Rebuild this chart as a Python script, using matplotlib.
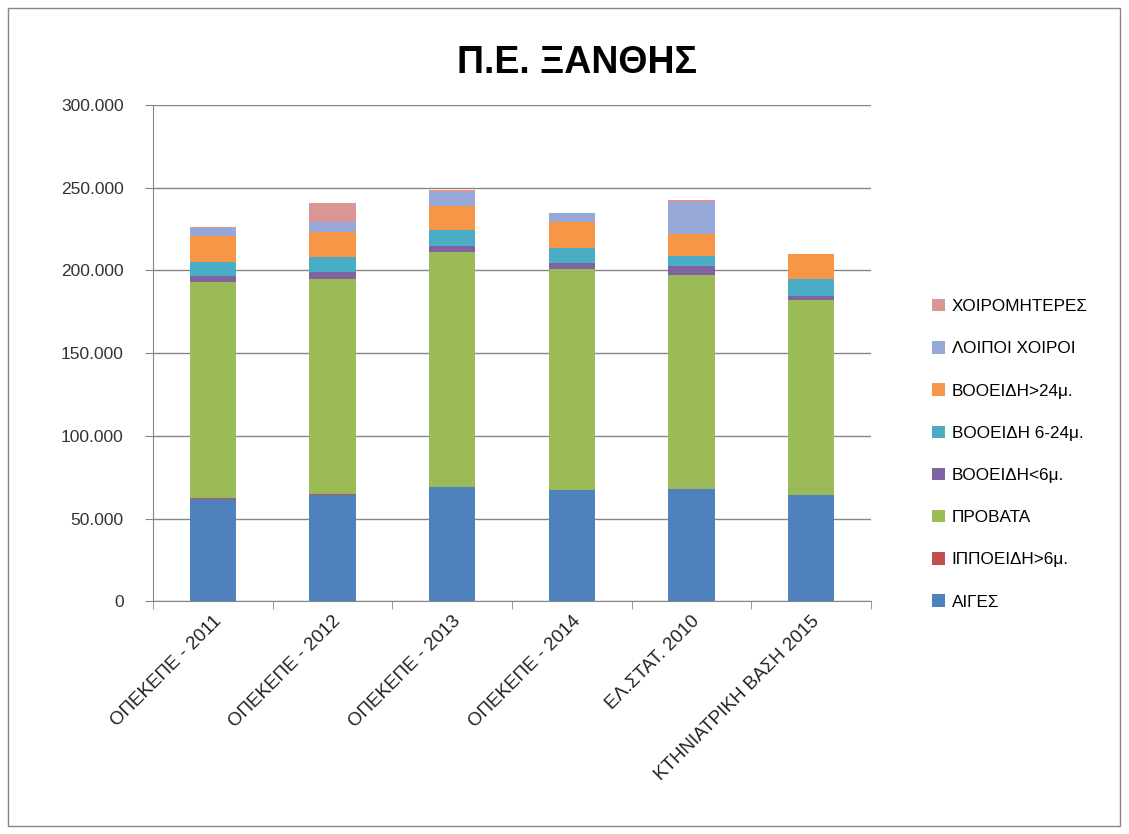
import numpy as np
import matplotlib
matplotlib.use('Agg')
import matplotlib.pyplot as plt
from matplotlib.patches import Rectangle
from matplotlib.ticker import FuncFormatter, FixedLocator

plt.rcParams['font.family'] = ['Liberation Sans', 'DejaVu Sans']

categories = ['ΟΠΕΚΕΠΕ - 2011', 'ΟΠΕΚΕΠΕ - 2012', 'ΟΠΕΚΕΠΕ - 2013',
              'ΟΠΕΚΕΠΕ - 2014', 'ΕΛ.ΣΤΑΤ. 2010', 'ΚΤΗΝΙΑΤΡΙΚΗ ΒΑΣΗ 2015']

# series, bottom to top
aiges = [62000, 64500, 69000, 67100, 67700, 64000]
ippoeidh = [500, 500, 300, 300, 300, 300]
provata = [130500, 129800, 141800, 133400, 129200, 117700]
vooeidh_lt6 = [3600, 4200, 3600, 3600, 5400, 2500]
vooeidh_6_24 = [8400, 9000, 9700, 9100, 6100, 10300]
vooeidh_gt24 = [15800, 15200, 14500, 16000, 13300, 15100]
loipoi_xoiroi = [4800, 6100, 8500, 5200, 19300, 0]
xoiromhteres = [600, 11500, 1200, 300, 1200, 0]

series_names = ['ΑΙΓΕΣ', 'ΙΠΠΟΕΙΔΗ>6μ.', 'ΠΡΟΒΑΤΑ', 'ΒΟΟΕΙΔΗ<6μ.',
                'ΒΟΟΕΙΔΗ 6-24μ.', 'ΒΟΟΕΙΔΗ>24μ.', 'ΛΟΙΠΟΙ ΧΟΙΡΟΙ', 'ΧΟΙΡΟΜΗΤΕΡΕΣ']
series_vals = [aiges, ippoeidh, provata, vooeidh_lt6, vooeidh_6_24,
               vooeidh_gt24, loipoi_xoiroi, xoiromhteres]
colors = ['#4F81BD', '#C0504D', '#9BBB59', '#8064A2', '#4BACC6',
          '#F79646', '#95A8D8', '#D99694']

fig = plt.figure(figsize=(11.29, 8.34), dpi=100)
ax = fig.add_axes([0.1355, 0.279, 0.636, 0.595])

x = np.arange(len(categories))
bottom = np.zeros(len(categories))
handles = []
for name, vals, c in zip(series_names, series_vals, colors):
    b = ax.bar(x, vals, 0.385, bottom=bottom, color=c, label=name, zorder=3)
    handles.append(b)
    bottom += np.array(vals)

ax.set_xlim(-0.5, len(categories) - 0.5)
ax.set_ylim(0, 300000)
ax.set_yticks(np.arange(0, 300001, 50000))
ax.yaxis.set_major_formatter(FuncFormatter(lambda v, p: '0' if v == 0 else '{:,.0f}'.format(v).replace(',', '.')))
ax.grid(axis='y', color='#868686', linewidth=1.0, zorder=0)
ax.tick_params(axis='y', labelsize=12.5, labelcolor='#333333', length=6,
               color='#868686', pad=15)

ax.xaxis.set_major_locator(FixedLocator(x))
ax.set_xticklabels(categories, rotation=45, ha='right', rotation_mode='anchor',
                   fontsize=13.5, color='#222222')
ax.xaxis.set_minor_locator(FixedLocator(np.arange(-0.5, len(categories), 1.0)))
ax.tick_params(axis='x', which='major', length=0, pad=8)
ax.tick_params(axis='x', which='minor', length=6, color='#868686')

for s in ['top', 'right']:
    ax.spines[s].set_visible(False)
for s in ['left', 'bottom']:
    ax.spines[s].set_color('#868686')

fig.text(0.511, 0.925, 'Π.Ε. ΞΑΝΘΗΣ', ha='center', va='center',
         fontsize=27, fontweight='bold', color='black')

leg = fig.legend(handles[::-1], series_names[::-1], loc='upper left',
                 bbox_to_anchor=(0.812, 0.66), frameon=False, fontsize=12.3,
                 handlelength=0.75, handleheight=0.75, handletextpad=0.4,
                 labelspacing=1.58)

fig.patches.append(Rectangle((0.007, 0.009), 0.985, 0.981, transform=fig.transFigure,
                             fill=False, edgecolor='#868686', linewidth=1.0))

fig.savefig('out.png', dpi=100)
